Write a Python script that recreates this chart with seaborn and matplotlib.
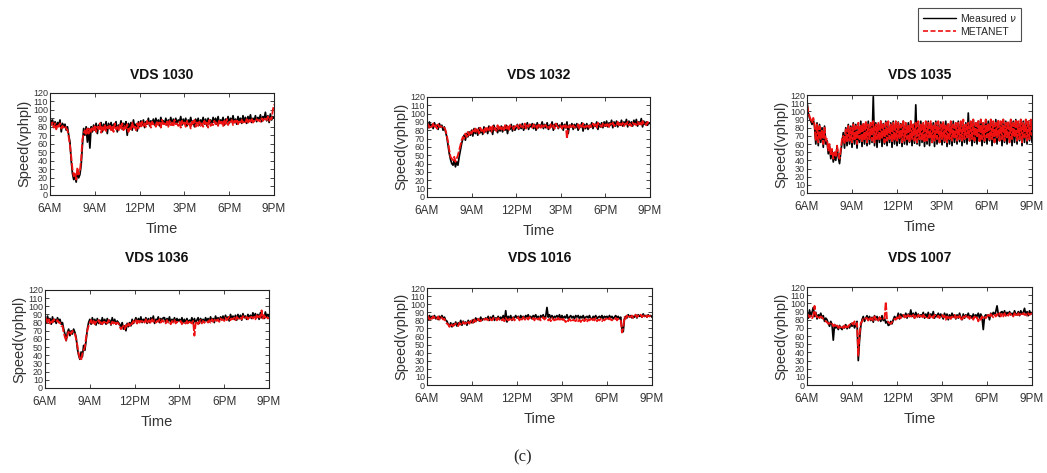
import numpy as np
import pandas as pd
import matplotlib
matplotlib.use("Agg")
import matplotlib.pyplot as plt
import seaborn as sns
from matplotlib.lines import Line2D

# ---------------- data (5-minute samples, 6AM .. 9PM; one row per hour) ----------------
titles = ["VDS 1030", "VDS 1032", "VDS 1035", "VDS 1036", "VDS 1016", "VDS 1007"]
tick_hours = [6, 9, 12, 15, 18, 21]
tick_labels = ["6AM", "9AM", "12PM", "3PM", "6PM", "9PM"]
y_ticks = [0, 10, 20, 30, 40, 50, 60, 70, 80, 90, 100, 110, 120]

meas_1030 = [
    90, 84, 88, 80, 86, 78, 85, 82, 88, 74, 84, 80,
    83, 76, 80, 70, 62, 40, 25, 18, 22, 15, 28, 20,
    24, 35, 58, 78, 70, 80, 62, 78, 55, 80, 74, 82,
    76, 84, 72, 82, 78, 85, 74, 83, 79, 86, 72, 84,
    78, 85, 76, 83, 80, 86, 74, 82, 79, 87, 77, 84,
    80, 86, 70, 84, 78, 85, 76, 88, 79, 83, 75, 86,
    80, 87, 82, 88, 79, 86, 83, 90, 81, 87, 84, 89,
    82, 90, 84, 88, 81, 91, 85, 87, 83, 90, 82, 88,
    85, 91, 82, 89, 84, 90, 83, 88, 86, 92, 82, 89,
    84, 90, 81, 88, 85, 91, 83, 87, 80, 89, 84, 90,
    82, 88, 85, 91, 83, 89, 81, 90, 84, 88, 82, 91,
    85, 90, 83, 92, 84, 88, 86, 91, 82, 89, 85, 92,
    84, 90, 86, 93, 85, 89, 83, 92, 87, 90, 84, 93,
    86, 91, 84, 92, 88, 94, 85, 90, 87, 93, 86, 91,
    88, 94, 86, 92, 89, 97, 87, 93, 85, 95, 88, 92,
    90]
meta_1030 = [
    86, 82, 85, 79, 84, 77, 83, 80, 84, 78, 81, 79,
    81, 78, 76, 68, 58, 45, 30, 22, 26, 18, 32, 24,
    28, 42, 65, 72, 76, 70, 78, 72, 79, 74, 80, 76,
    82, 74, 80, 77, 84, 73, 81, 76, 83, 75, 80, 78,
    83, 76, 81, 74, 84, 77, 80, 75, 82, 78, 84, 76,
    81, 78, 83, 74, 80, 77, 85, 79, 82, 76, 84, 78,
    85, 79, 86, 81, 84, 80, 87, 82, 85, 79, 86, 83,
    84, 80, 87, 82, 85, 79, 88, 83, 84, 81, 86, 80,
    87, 82, 85, 80, 88, 83, 84, 81, 86, 79, 87, 82,
    85, 80, 87, 81, 84, 78, 86, 82, 88, 80, 85, 81,
    86, 81, 84, 80, 87, 82, 85, 79, 88, 81, 84, 82,
    87, 83, 85, 81, 88, 84, 86, 80, 87, 83, 89, 82,
    86, 84, 88, 82, 87, 85, 89, 83, 86, 84, 88, 85,
    87, 85, 89, 84, 88, 86, 90, 85, 87, 86, 89, 87,
    88, 86, 90, 87, 89, 91, 88, 92, 87, 90, 89, 100,
    106]

meas_1032 = [
    88, 83, 90, 84, 87, 82, 89, 85, 86, 81, 88, 84,
    86, 80, 84, 78, 72, 62, 52, 45, 40, 38, 44, 36,
    42, 38, 48, 56, 64, 70, 74, 68, 76, 72, 78, 74,
    80, 73, 82, 76, 81, 74, 83, 77, 80, 75, 84, 78,
    82, 76, 85, 79, 83, 75, 86, 80, 82, 77, 84, 79,
    85, 78, 83, 80, 86, 76, 84, 81, 87, 79, 85, 80,
    83, 87, 81, 86, 82, 88, 80, 85, 83, 89, 81, 86,
    84, 88, 82, 87, 80, 89, 83, 86, 85, 90, 82, 87,
    83, 89, 81, 86, 84, 90, 80, 87, 85, 88, 82, 86,
    84, 89, 80, 87, 83, 90, 76, 86, 84, 88, 81, 87,
    83, 88, 80, 86, 84, 89, 79, 87, 82, 88, 81, 86,
    84, 89, 82, 87, 85, 90, 81, 88, 84, 89, 83, 90,
    85, 91, 84, 89, 86, 92, 83, 90, 85, 91, 84, 89,
    86, 92, 85, 90, 87, 93, 84, 91, 86, 90, 85, 92,
    87, 93, 85, 90, 88, 94, 84, 91, 87, 90, 86, 89,
    88]
meta_1032 = [
    85, 87, 83, 86, 84, 88, 83, 86, 82, 87, 84, 85,
    84, 82, 83, 80, 74, 66, 56, 48, 46, 44, 48, 42,
    46, 50, 56, 62, 68, 72, 70, 76, 72, 78, 74, 79,
    76, 80, 77, 82, 78, 81, 76, 83, 79, 82, 77, 84,
    79, 83, 80, 84, 78, 85, 81, 83, 79, 86, 80, 84,
    81, 84, 80, 86, 82, 85, 79, 86, 83, 84, 81, 85,
    83, 86, 82, 87, 84, 85, 83, 88, 82, 86, 84, 87,
    85, 83, 87, 84, 86, 82, 88, 85, 83, 87, 84, 86,
    86, 83, 85, 82, 87, 84, 86, 82, 88, 85, 83, 86,
    85, 82, 87, 84, 86, 70, 85, 83, 87, 84, 86, 83,
    85, 84, 87, 82, 86, 84, 88, 83, 85, 84, 87, 83,
    86, 84, 88, 85, 87, 83, 89, 85, 86, 84, 88, 85,
    87, 85, 89, 84, 88, 86, 89, 85, 87, 86, 90, 85,
    88, 86, 89, 85, 88, 87, 90, 86, 88, 85, 89, 87,
    88, 86, 90, 87, 89, 85, 91, 87, 88, 86, 90, 88,
    87]

meas_1035 = [
    112, 98, 92, 88, 84, 90, 82, 60, 86, 58, 84, 62,
    80, 56, 82, 60, 64, 48, 58, 42, 52, 38, 46, 40,
    56, 44, 36, 50, 62, 74, 55, 80, 58, 84, 60, 82,
    56, 86, 60, 84, 55, 80, 62, 88, 57, 84, 60, 86,
    58, 88, 60, 84, 62, 118, 58, 86, 56, 84, 62, 88,
    57, 85, 60, 88, 58, 84, 62, 86, 56, 88, 60, 84,
    58, 87, 61, 85, 57, 88, 60, 84, 59, 86, 62, 88,
    58, 84, 61, 108, 60, 86, 58, 88, 62, 84, 57, 86,
    60, 88, 58, 84, 62, 86, 57, 88, 60, 84, 62, 87,
    59, 85, 62, 88, 57, 84, 60, 86, 58, 88, 62, 84,
    60, 88, 63, 86, 58, 84, 62, 86, 60, 98, 64, 86,
    58, 90, 62, 86, 60, 88, 64, 90, 58, 86, 62, 90,
    60, 88, 64, 90, 58, 86, 62, 90, 60, 88, 64, 86,
    58, 90, 62, 88, 60, 86, 64, 90, 58, 88, 62, 90,
    60, 86, 64, 90, 58, 88, 62, 90, 60, 86, 64, 88,
    62]
meta_1035 = [
    108, 100, 94, 90, 86, 92, 84, 64, 84, 62, 82, 66,
    78, 60, 80, 64, 66, 52, 60, 46, 54, 42, 50, 44,
    58, 48, 42, 54, 66, 70, 60, 78, 62, 82, 64, 80,
    62, 84, 64, 82, 60, 86, 66, 84, 62, 86, 64, 88,
    62, 84, 66, 86, 64, 88, 62, 84, 66, 86, 64, 88,
    66, 84, 62, 86, 64, 88, 66, 84, 62, 86, 64, 88,
    64, 86, 66, 84, 62, 88, 64, 86, 66, 84, 62, 88,
    66, 84, 64, 86, 62, 88, 66, 84, 64, 86, 62, 88,
    64, 86, 66, 88, 62, 84, 64, 86, 66, 88, 62, 84,
    66, 88, 64, 84, 62, 86, 66, 88, 64, 84, 66, 86,
    64, 86, 66, 88, 64, 90, 66, 84, 68, 86, 64, 88,
    66, 90, 64, 86, 68, 88, 62, 90, 66, 86, 64, 90,
    68, 86, 64, 90, 66, 88, 62, 86, 68, 90, 64, 88,
    66, 90, 64, 86, 68, 88, 62, 90, 66, 86, 68, 90,
    64, 88, 66, 90, 62, 86, 68, 90, 64, 88, 66, 90,
    70]

meas_1036 = [
    86, 80, 88, 82, 85, 78, 87, 81, 84, 79, 86, 82,
    84, 78, 80, 72, 66, 58, 68, 72, 64, 70, 66, 72,
    68, 62, 48, 40, 35, 44, 38, 52, 46, 58, 72, 80,
    84, 78, 86, 80, 84, 77, 85, 79, 83, 78, 86, 80,
    84, 78, 85, 80, 83, 77, 86, 79, 84, 78, 82, 80,
    78, 74, 80, 72, 76, 70, 79, 75, 80, 76, 84, 79,
    82, 86, 79, 85, 81, 87, 80, 84, 82, 86, 79, 85,
    80, 86, 82, 88, 79, 84, 83, 87, 80, 85, 82, 86,
    86, 80, 85, 82, 87, 79, 84, 81, 86, 80, 85, 82,
    84, 81, 86, 80, 84, 79, 85, 80, 83, 81, 86, 79,
    85, 80, 83, 86, 79, 85, 81, 84, 80, 86, 82, 85,
    81, 87, 82, 85, 80, 88, 83, 86, 82, 87, 84, 88,
    83, 89, 84, 87, 82, 90, 85, 88, 84, 89, 83, 90,
    85, 89, 83, 91, 86, 88, 84, 90, 86, 89, 85, 92,
    87, 91, 86, 90, 84, 92, 86, 89, 85, 93, 87, 90,
    87]
meta_1036 = [
    82, 85, 80, 84, 79, 83, 80, 84, 82, 81, 83, 80,
    80, 76, 76, 68, 62, 58, 64, 70, 68, 66, 70, 68,
    66, 60, 52, 42, 36, 34, 42, 46, 50, 62, 70, 76,
    80, 83, 79, 82, 78, 81, 80, 83, 79, 82, 78, 81,
    80, 82, 79, 83, 80, 78, 81, 79, 82, 78, 80, 79,
    75, 72, 74, 76, 72, 77, 74, 79, 76, 80, 78, 82,
    80, 83, 79, 84, 80, 82, 81, 83, 80, 84, 79, 82,
    83, 79, 84, 81, 83, 80, 82, 81, 84, 80, 83, 81,
    82, 79, 83, 80, 81, 78, 82, 80, 83, 79, 81, 80,
    80, 82, 78, 81, 80, 79, 82, 78, 81, 80, 79, 82,
    64, 79, 82, 78, 81, 83, 79, 82, 80, 81, 82, 80,
    83, 80, 84, 81, 83, 85, 82, 84, 81, 85, 83, 84,
    82, 86, 83, 85, 87, 83, 85, 84, 86, 83, 87, 85,
    85, 87, 84, 88, 85, 86, 87, 84, 88, 86, 87, 85,
    87, 84, 89, 85, 88, 86, 95, 85, 89, 86, 88, 85,
    86]

meas_1016 = [
    84, 81, 86, 82, 85, 83, 86, 82, 84, 81, 85, 83,
    86, 82, 84, 80, 79, 75, 73, 77, 72, 76, 74, 78,
    73, 77, 75, 80, 74, 79, 76, 78, 74, 80, 77, 79,
    77, 81, 78, 83, 80, 82, 79, 84, 80, 82, 81, 83,
    81, 85, 80, 84, 82, 86, 80, 83, 82, 85, 81, 84,
    81, 86, 79, 92, 78, 85, 82, 86, 80, 84, 83, 86,
    83, 85, 81, 86, 83, 85, 82, 86, 84, 87, 83, 85,
    82, 86, 84, 87, 83, 85, 81, 86, 84, 87, 82, 85,
    96, 84, 87, 83, 86, 82, 85, 84, 86, 83, 87, 82,
    86, 82, 85, 83, 87, 82, 84, 86, 83, 85, 82, 86,
    84, 86, 82, 85, 83, 86, 82, 84, 85, 83, 86, 82,
    82, 85, 83, 86, 82, 84, 85, 83, 86, 82, 85, 84,
    85, 82, 86, 83, 85, 82, 84, 86, 83, 85, 82, 84,
    70, 66, 82, 85, 83, 87, 84, 86, 83, 85, 84, 87,
    83, 87, 85, 86, 84, 88, 85, 86, 84, 87, 85, 86,
    84]
meta_1016 = [
    82, 85, 81, 84, 82, 85, 83, 84, 82, 85, 81, 84,
    83, 81, 82, 78, 76, 75, 72, 76, 74, 73, 75, 76,
    76, 73, 77, 75, 74, 78, 76, 77, 75, 78, 76, 79,
    80, 77, 81, 79, 78, 82, 80, 79, 81, 80, 82, 81,
    82, 80, 83, 81, 80, 83, 81, 82, 80, 83, 81, 82,
    80, 82, 79, 83, 81, 80, 82, 79, 81, 83, 80, 82,
    82, 84, 80, 83, 81, 84, 82, 80, 83, 81, 84, 82,
    81, 83, 80, 84, 82, 81, 83, 80, 82, 84, 81, 83,
    83, 80, 82, 79, 83, 81, 80, 82, 79, 83, 81, 82,
    79, 82, 80, 78, 81, 79, 82, 80, 78, 81, 80, 79,
    82, 79, 81, 78, 82, 80, 79, 82, 78, 81, 80, 82,
    79, 82, 80, 83, 79, 81, 80, 82, 79, 81, 80, 82,
    82, 80, 83, 81, 80, 82, 81, 83, 80, 82, 81, 80,
    65, 70, 84, 82, 86, 83, 85, 84, 86, 83, 85, 87,
    84, 86, 85, 87, 84, 86, 85, 87, 84, 86, 85, 86,
    86]

meas_1007 = [
    88, 82, 92, 84, 89, 95, 84, 89, 81, 86, 84, 88,
    82, 85, 78, 82, 80, 76, 72, 78, 74, 55, 74, 70,
    72, 68, 73, 70, 68, 72, 70, 74, 69, 72, 70, 75,
    72, 76, 70, 74, 78, 30, 55, 72, 80, 84, 78, 82,
    85, 80, 84, 79, 83, 77, 85, 80, 84, 79, 83, 78,
    85, 79, 82, 76, 78, 73, 74, 78, 75, 80, 84, 82,
    82, 88, 81, 87, 84, 86, 83, 88, 82, 87, 84, 92,
    84, 88, 82, 89, 84, 87, 83, 86, 85, 89, 82, 87,
    83, 89, 82, 87, 84, 90, 82, 86, 84, 88, 83, 87,
    84, 81, 88, 83, 87, 80, 86, 82, 88, 84, 86, 81,
    86, 82, 88, 83, 80, 87, 82, 86, 84, 88, 83, 85,
    82, 87, 83, 86, 84, 88, 82, 87, 83, 68, 84, 86,
    85, 86, 80, 88, 85, 89, 86, 90, 97, 87, 84, 89,
    90, 86, 91, 85, 89, 87, 90, 86, 88, 85, 91, 87,
    86, 90, 85, 91, 87, 89, 94, 86, 90, 85, 91, 87,
    89]
meta_1007 = [
    84, 86, 83, 85, 82, 84, 97, 86, 83, 85, 82, 84,
    83, 81, 80, 78, 77, 75, 76, 74, 75, 72, 74, 71,
    73, 70, 72, 69, 71, 70, 73, 69, 72, 71, 74, 73,
    76, 74, 78, 74, 76, 36, 62, 76, 78, 81, 80, 82,
    82, 79, 83, 80, 82, 79, 84, 80, 82, 79, 83, 81,
    80, 81, 82, 102, 80, 77, 76, 75, 77, 79, 81, 80,
    83, 80, 85, 82, 84, 86, 83, 85, 82, 86, 84, 85,
    83, 86, 82, 85, 83, 86, 84, 85, 82, 86, 84, 83,
    84, 82, 86, 83, 85, 82, 86, 84, 83, 85, 82, 86,
    86, 83, 85, 80, 84, 82, 85, 81, 84, 83, 86, 82,
    84, 81, 85, 82, 79, 84, 83, 85, 82, 84, 81, 84,
    83, 80, 84, 81, 83, 78, 82, 80, 84, 81, 83, 82,
    84, 86, 83, 87, 85, 83, 86, 84, 87, 85, 88, 84,
    87, 84, 88, 85, 87, 85, 88, 86, 87, 84, 88, 86,
    84, 88, 86, 87, 85, 88, 86, 87, 85, 88, 86, 87,
    88]

measured = [meas_1030, meas_1032, meas_1035, meas_1036, meas_1016, meas_1007]
metanet = [meta_1030, meta_1032, meta_1035, meta_1036, meta_1016, meta_1007]

# ---------------- style ----------------
sns.set_style("ticks")
plt.rcParams["font.family"] = ["Liberation Sans", "DejaVu Sans"]
plt.rcParams["xtick.direction"] = "in"
plt.rcParams["ytick.direction"] = "in"
plt.rcParams["axes.edgecolor"] = "#222222"
plt.rcParams["axes.linewidth"] = 0.8

fig = plt.figure(figsize=(10.47, 4.73), dpi=100)

# axes rectangles (left, bottom, width, height) in figure fraction
rects = [
    (0.0478, 0.588, 0.214, 0.216),
    (0.4078, 0.584, 0.213, 0.211),
    (0.7708, 0.592, 0.2149, 0.207),
    (0.0430, 0.180, 0.214, 0.207),
    (0.4078, 0.186, 0.2149, 0.205),
    (0.7708, 0.186, 0.2149, 0.207),
]
title_y = [0.8414, 0.8414, 0.8414, 0.4545, 0.4545, 0.4545]

narrow = ["Liberation Sans Narrow", "Liberation Sans", "DejaVu Sans"]

for i, rect in enumerate(rects):
    ax = fig.add_axes(rect)
    n = len(measured[i])
    hours = 6 + np.arange(n) / 12.0
    df = pd.DataFrame({"Time": hours, "Measured": measured[i], "METANET": metanet[i]})
    sns.lineplot(data=df, x="Time", y="Measured", ax=ax, color="black", linewidth=1.25)
    sns.lineplot(data=df, x="Time", y="METANET", ax=ax, color="#ee1111", linewidth=1.35,
                 linestyle=(0, (4, 1)))
    ax.set_xlim(6, 21)
    ax.set_ylim(0, 120)
    ax.set_xticks(tick_hours)
    ax.set_xticklabels(tick_labels)
    ax.set_yticks(y_ticks)
    ax.tick_params(axis="both", which="both", top=True, right=True, length=3,
                   width=0.6, labelcolor="#333333")
    ax.tick_params(axis="x", labelsize=8.5, pad=6)
    ax.tick_params(axis="y", labelsize=6.5, pad=1.5)
    for lab in ax.get_yticklabels():
        lab.set_family(narrow)
    ax.set_xlabel("Time", fontsize=10.5, color="#333333", labelpad=5)
    ax.set_ylabel("Speed(vphpl)", fontsize=10.5, color="#333333", labelpad=1)
    for s in ax.spines.values():
        s.set_visible(True)
    fig.text(rect[0] + rect[2] / 2, title_y[i], titles[i], ha="center", va="center",
             fontsize=10, fontweight="bold", color="#111111")

handles = [Line2D([], [], color="black", linewidth=1.0),
           Line2D([], [], color="#ee1111", linewidth=1.2, linestyle=(0, (3, 1.5)))]
leg = fig.legend(handles, [r"Measured $\nu$", "METANET"], loc="upper right",
                 bbox_to_anchor=(0.980, 0.995), fontsize=7.5, frameon=True,
                 fancybox=False, edgecolor="#222222", handlelength=3.2,
                 borderpad=0.4, labelspacing=0.3, handletextpad=0.4)
leg.get_frame().set_linewidth(0.8)

fig.text(0.4995, 0.033, "(c)", ha="center", va="center", fontsize=12,
         family=["Liberation Serif", "DejaVu Serif"])

fig.savefig("out.png", dpi=100)
